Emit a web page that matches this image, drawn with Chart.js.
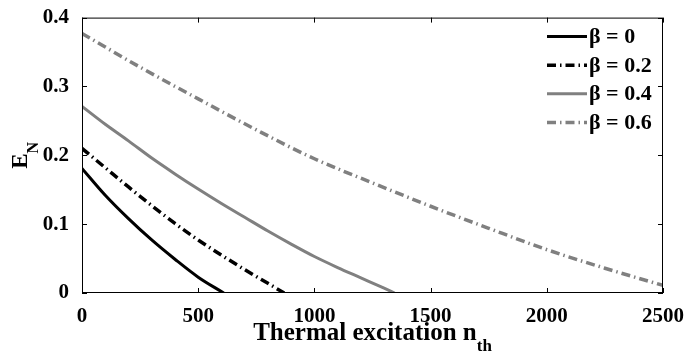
<!DOCTYPE html>
<html lang="en">
<head>
    <meta charset="UTF-8">
    <title>Entanglement vs thermal excitation</title>
    <script src="https://cdn.jsdelivr.net/npm/chart.js"></script>
    <style>
        body { margin: 0; background: #fff; }
        #chart { display: block; }
    </style>
</head>
<body>
    <canvas id="chart" width="687" height="353"></canvas>
    <script>
        // data
        const seriesLabels = ['β = 0', 'β = 0.2', 'β = 0.4', 'β = 0.6'];

        const nBeta0 = [0, 100, 200, 300, 400, 500, 610];
        const eBeta0 = [0.181, 0.142, 0.108, 0.077, 0.049, 0.023, 0];

        const nBeta02 = [0, 100, 200, 300, 400, 500, 600, 700, 800, 870];
        const eBeta02 = [0.210, 0.182, 0.154, 0.127, 0.101, 0.077, 0.055, 0.034, 0.014, 0];

        const nBeta04 = [0, 100, 200, 300, 400, 500, 600, 700, 800, 900, 1000, 1100, 1200, 1300, 1345];
        const eBeta04 = [0.271, 0.245, 0.221, 0.196, 0.173, 0.151, 0.130, 0.110, 0.090, 0.071, 0.053, 0.037, 0.022, 0.007, 0];

        const nBeta06 = [0, 250, 500, 750, 1000, 1250, 1500, 1750, 2000, 2250, 2500];
        const eBeta06 = [0.377, 0.328, 0.282, 0.237, 0.195, 0.160, 0.126, 0.094, 0.063, 0.036, 0.011];

        const xTicks = [0, 500, 1000, 1500, 2000, 2500];
        const xTickLabels = ['0', '500', '1000', '1500', '2000', '2500'];
        const yTicks = [0, 0.1, 0.2, 0.3, 0.4];
        const yTickLabels = ['0', '0.1', '0.2', '0.3', '0.4'];

        const xTitle = 'Thermal excitation n';
        const xTitleSub = 'th';
        const yTitle = 'E';
        const yTitleSub = 'N';

        const serif = '"Liberation Serif", "Times New Roman", serif';
        const gray = 'rgb(128, 128, 128)';
        const dashDot = [9, 4, 1.5, 4];

        function toPoints(xs, ys) {
            return xs.map((x, i) => ({ x: x, y: ys[i] }));
        }

        const lineStyles = [
            { color: '#000', dash: [], width: 3 },
            { color: '#000', dash: dashDot, width: 3.5 },
            { color: gray, dash: [], width: 3 },
            { color: gray, dash: dashDot, width: 3.5 }
        ];
        const seriesData = [
            toPoints(nBeta0, eBeta0),
            toPoints(nBeta02, eBeta02),
            toPoints(nBeta04, eBeta04),
            toPoints(nBeta06, eBeta06)
        ];

        // frame, inward ticks on all sides, legend and axis titles (matlab look)
        const matlabFrame = {
            id: 'matlabFrame',
            afterDraw(chart) {
                const ctx = chart.ctx;
                const a = chart.chartArea;
                const xs = chart.scales.x;
                const ys = chart.scales.y;
                const tick = 5;
                ctx.save();
                ctx.strokeStyle = '#000';
                ctx.lineWidth = 1;
                ctx.setLineDash([]);
                ctx.strokeRect(a.left + 0.5, a.top + 0.5, a.right - a.left - 1, a.bottom - a.top - 1);
                ctx.beginPath();
                xTicks.forEach(v => {
                    const px = Math.round(xs.getPixelForValue(v)) + 0.5;
                    ctx.moveTo(px, a.bottom);
                    ctx.lineTo(px, a.bottom - tick);
                    ctx.moveTo(px, a.top);
                    ctx.lineTo(px, a.top + tick);
                });
                yTicks.forEach(v => {
                    const py = Math.round(ys.getPixelForValue(v)) + 0.5;
                    ctx.moveTo(a.left, py);
                    ctx.lineTo(a.left + tick, py);
                    ctx.moveTo(a.right, py);
                    ctx.lineTo(a.right - tick, py);
                });
                ctx.stroke();

                // legend
                ctx.textAlign = 'left';
                ctx.textBaseline = 'middle';
                ctx.font = 'bold 22px ' + serif;
                seriesLabels.forEach((label, i) => {
                    const ds = chart.data.datasets[i];
                    const y = a.top + 19 + i * 28.6;
                    ctx.beginPath();
                    ctx.strokeStyle = ds.borderColor;
                    ctx.lineWidth = ds.borderWidth;
                    ctx.setLineDash(ds.borderDash);
                    ctx.moveTo(a.right - 116, y);
                    ctx.lineTo(a.right - 76, y);
                    ctx.stroke();
                    ctx.setLineDash([]);
                    ctx.fillStyle = '#000';
                    ctx.fillText(label, a.right - 74, y + 1);
                });

                // x title with subscript
                ctx.textBaseline = 'alphabetic';
                ctx.font = 'bold 25px ' + serif;
                const wMain = ctx.measureText(xTitle).width;
                ctx.font = 'bold 17px ' + serif;
                const wSub = ctx.measureText(xTitleSub).width;
                const cx = (a.left + a.right) / 2;
                const x0 = cx - (wMain + wSub) / 2;
                ctx.font = 'bold 25px ' + serif;
                ctx.fillText(xTitle, x0, 340);
                ctx.font = 'bold 17px ' + serif;
                ctx.fillText(xTitleSub, x0 + wMain, 351);

                // y title with subscript, rotated
                ctx.translate(27, (a.top + a.bottom) / 2);
                ctx.rotate(-Math.PI / 2);
                ctx.font = 'bold 23px ' + serif;
                const wE = ctx.measureText(yTitle).width;
                ctx.font = 'bold 16px ' + serif;
                const wN = ctx.measureText(yTitleSub).width;
                const s = -(wE + wN) / 2;
                ctx.font = 'bold 23px ' + serif;
                ctx.fillText(yTitle, s, 0);
                ctx.font = 'bold 16px ' + serif;
                ctx.fillText(yTitleSub, s + wE, 11);
                ctx.restore();
            }
        };

        const ctx = document.getElementById('chart').getContext('2d');
        const chart = new Chart(ctx, {
            type: 'line',
            data: {
                datasets: seriesData.map((pts, i) => ({
                    label: seriesLabels[i],
                    data: pts,
                    borderColor: lineStyles[i].color,
                    borderDash: lineStyles[i].dash,
                    borderWidth: lineStyles[i].width,
                    pointRadius: 0,
                    fill: false,
                    cubicInterpolationMode: 'monotone'
                }))
            },
            options: {
                responsive: false,
                devicePixelRatio: 1,
                animation: false,
                layout: { padding: { top: 13, right: 22, left: 0, bottom: 0 } },
                plugins: {
                    legend: { display: false },
                    tooltip: { enabled: false }
                },
                scales: {
                    x: {
                        type: 'linear',
                        min: 0,
                        max: 2500,
                        afterBuildTicks: scale => { scale.ticks = xTicks.map(v => ({ value: v })); },
                        afterFit: scale => { scale.height = 60; },
                        grid: { display: false },
                        border: { display: false },
                        ticks: {
                            color: '#000',
                            padding: 3,
                            maxRotation: 0,
                            font: { family: serif, size: 21, weight: 'bold' },
                            callback: (v, i) => xTickLabels[i]
                        }
                    },
                    y: {
                        min: 0,
                        max: 0.4,
                        afterBuildTicks: scale => { scale.ticks = yTicks.map(v => ({ value: v })); },
                        afterFit: scale => { scale.width = 82; },
                        grid: { display: false },
                        border: { display: false },
                        ticks: {
                            color: '#000',
                            padding: 5,
                            font: { family: serif, size: 21, weight: 'bold' },
                            callback: (v, i) => yTickLabels[i]
                        }
                    }
                }
            },
            plugins: [matlabFrame]
        });
    </script>
</body>
</html>
